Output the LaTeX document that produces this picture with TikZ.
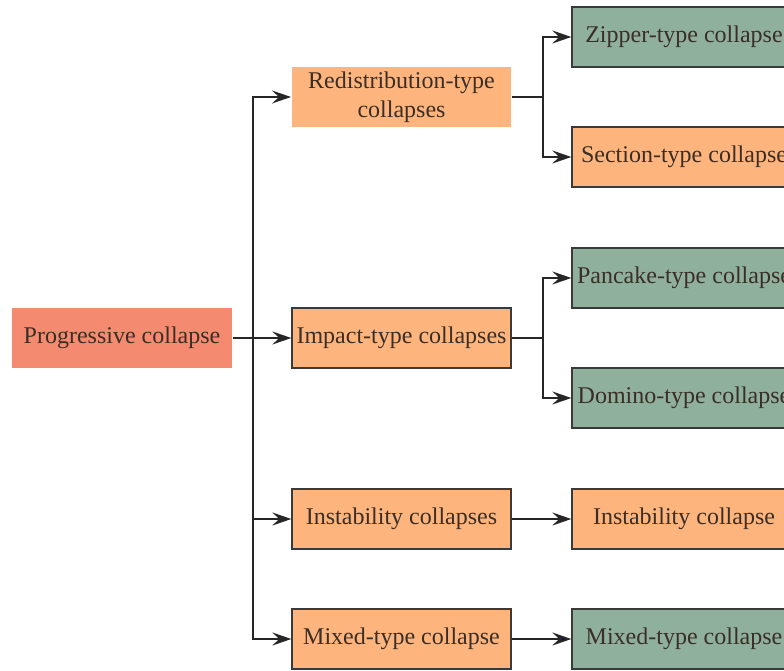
\documentclass[tikz,border=0pt]{standalone}
\usepackage{fontspec}
\setmainfont{Liberation Serif}
\usepackage{tikz}
\usetikzlibrary{positioning, arrows.meta, calc}
\definecolor{rootfill}{HTML}{F48B70}
\definecolor{orangefill}{HTML}{FDB57D}
\definecolor{greenfill}{HTML}{8FB09D}
\definecolor{boxline}{HTML}{3A3A3A}
\definecolor{txtcol}{HTML}{3B2E26}
\tikzset{
    rootbox/.style={fill=rootfill, minimum width=220pt, minimum height=60pt, inner sep=1pt},
    plainbox/.style={fill=orangefill, minimum width=219pt, minimum height=60pt, inner sep=1pt, align=center},
    orangebox/.style={draw=boxline, fill=orangefill, line width=1.3pt, minimum width=219pt, minimum height=60pt, inner sep=1pt},
    greenbox/.style={draw=boxline, fill=greenfill, line width=1.3pt, minimum width=224pt, minimum height=60pt, inner sep=1pt},
}

\begin{document}
\begin{tikzpicture}[
    x=1pt, y=-1pt,
    >={Stealth[length=19pt, width=13pt, inset=7pt]},
    every node/.style={font=\fontsize{24}{29}\selectfont, text=txtcol},
    line width=2pt, draw=black!85,
]
\useasboundingbox (0,0) rectangle (784,671);
\clip (0,0) rectangle (784,671);

\node[rootbox] (root) at (122,338) {Progressive collapse};
\node[plainbox] (redis) at (401.5,97) {Redistribution-type\\collapses};
\node[orangebox] (impact) at (401.5,338) {Impact-type collapses};
\node[orangebox] (instab) at (401.5,519) {Instability collapses};
\node[orangebox] (mixed) at (401.5,639) {Mixed-type collapse};

\node[greenbox] (zipper) at (684,37) {Zipper-type collapse};
\node[orangebox, minimum width=224pt] (section) at (684,157) {Section-type collapse};
\node[greenbox] (pancake) at (684,278) {Pancake-type collapse};
\node[greenbox] (domino) at (684,398) {Domino-type collapse};
\node[orangebox, minimum width=224pt] (instabc) at (684,519) {Instability collapse};
\node[greenbox] (mixedc) at (684,639) {Mixed-type collapse};

\coordinate (split) at ($(root.east)+(20,0)$);
\coordinate (rsplit) at ($(redis.east)+(31,0)$);
\coordinate (isplit) at ($(impact.east)+(31,0)$);

\draw[->] (root.east) -- (impact.west);
\draw[->] (split) |- (redis.west);
\draw[->] (split) |- (instab.west);
\draw[->] (split) |- (mixed.west);

\draw (redis.east) -- (rsplit);
\draw[->] (rsplit) |- (zipper.west);
\draw[->] (rsplit) |- (section.west);

\draw (impact.east) -- (isplit);
\draw[->] (isplit) |- (pancake.west);
\draw[->] (isplit) |- (domino.west);

\draw[->] (instab.east) -- (instabc.west);
\draw[-{Stealth[length=19pt, width=13pt, inset=7pt, fill=blue!50!black]}] (mixed.east) -- (mixedc.west);
\end{tikzpicture}
\end{document}
